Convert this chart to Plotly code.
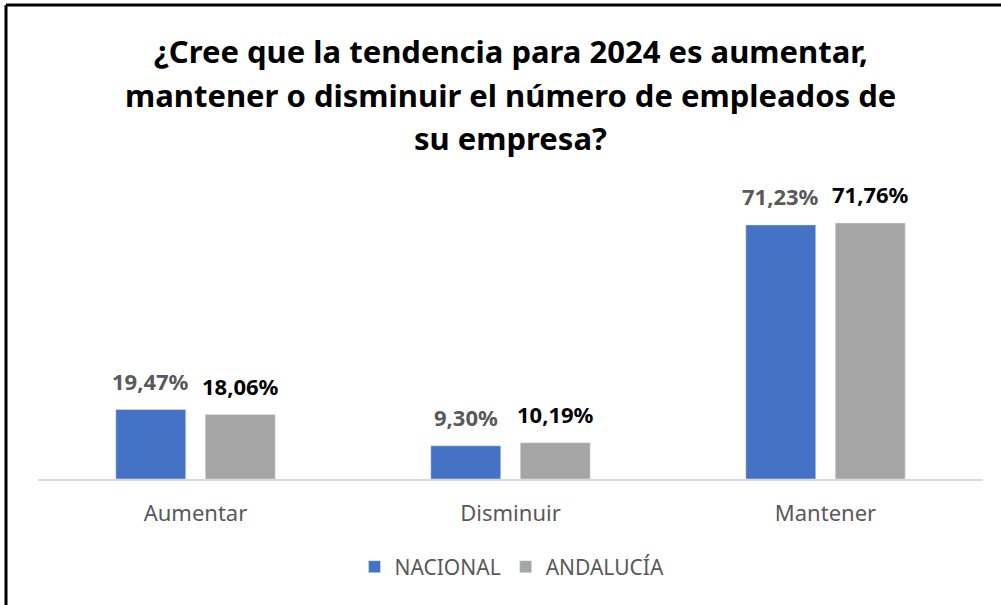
import plotly.graph_objects as go

categorias = ["Aumentar", "Disminuir", "Mantener"]
nacional = [19.47, 9.30, 71.23]
andalucia = [18.06, 10.19, 71.76]
series = ["NACIONAL", "ANDALUCÍA"]
titulo = [
    "¿Cree que la tendencia para 2024 es aumentar,",
    "mantener o disminuir el número de empleados de",
    "su empresa?",
]

W, H = 1001, 605
ml, mr, mt, mb = 38, 18, 180, 126
pw, ph = W - ml - mr, H - mt - mb


def px(x):
    return (x - ml) / pw


def py(y):
    return (H - mb - y) / ph


fig = go.Figure()
fig.add_trace(go.Bar(x=categorias, y=nacional, name=series[0],
                     marker=dict(color="#4472C4")))
fig.add_trace(go.Bar(x=categorias, y=andalucia, name=series[1],
                     marker=dict(color="#A5A5A5")))

# data labels above each bar
slot = pw / 3 * (1 - 0.432) / 2
for vals, shift, color in [(nacional, -slot / 2, "#595959"), (andalucia, slot / 2, "#000000")]:
    for c, v in zip(categorias, vals):
        fig.add_annotation(
            x=c, y=v, xref="x", yref="y", xshift=shift, yshift=12,
            text="<b>" + f"{v:.2f}".replace(".", ",") + "%</b>",
            showarrow=False, xanchor="center", yanchor="bottom",
            font=dict(family="Noto Sans", size=22, color=color),
        )

# title lines
for i, linea in enumerate(titulo):
    fig.add_annotation(
        text="<b>" + linea + "</b>", xref="paper", yref="paper",
        x=px(511), y=py(51 + 43.5 * i),
        xanchor="center", yanchor="middle", showarrow=False,
        font=dict(family="Noto Sans", size=31, color="#000000"),
    )

# frame (left and top edges)
fig.add_shape(type="line", xref="paper", yref="paper",
              x0=px(6), x1=px(6), y0=py(605), y1=py(5),
              line=dict(color="black", width=3))
fig.add_shape(type="line", xref="paper", yref="paper",
              x0=px(6), x1=px(1001), y0=py(5), y1=py(5),
              line=dict(color="black", width=3))

fig.update_layout(
    width=W, height=H,
    margin=dict(l=ml, r=mr, t=mt, b=mb),
    paper_bgcolor="white", plot_bgcolor="white",
    barmode="group", bargap=0.432, bargroupgap=0.218,
    showlegend=True,
    legend=dict(orientation="h", x=px(512), xanchor="center",
                y=py(567), yanchor="middle",
                font=dict(family="Noto Sans", size=21, color="#595959"),
                itemwidth=30, traceorder="normal"),
    font=dict(family="Noto Sans"),
)
fig.update_xaxes(showline=True, linecolor="#D9D9D9", linewidth=2,
                 ticks="", ticklabelstandoff=14,
                 tickfont=dict(family="Noto Sans", size=22, color="#595959"),
                 showgrid=False)
fig.update_yaxes(range=[0, ph / (256 / 71.76)], visible=False, showgrid=False)

fig.write_html("out.html", config={"displayModeBar": False},
               post_script="document.body.style.margin='0px';")
